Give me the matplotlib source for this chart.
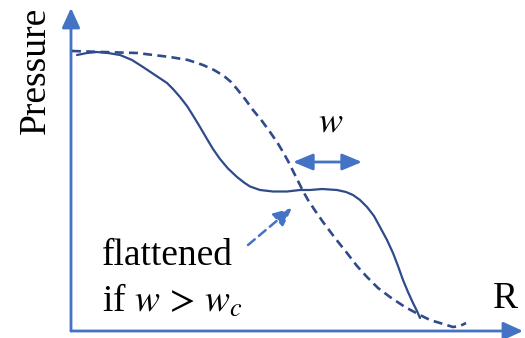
import matplotlib.pyplot as plt
from matplotlib.patches import FancyArrowPatch

plt.rcParams['mathtext.fontset'] = 'stix'

# sketch coordinates (x to the right, y downward)
solid_x = [77, 87, 97, 108, 120, 132, 143, 155, 167, 173, 180, 187, 193, 200, 207,
           213, 220, 228, 237, 244, 250, 260, 273, 287, 300, 310, 322, 337, 346,
           353, 360, 367, 374, 380, 387, 393, 398, 403, 408, 413, 417, 420]
solid_y = [55, 53, 52, 53, 55, 60, 67, 75, 83, 89, 97, 106, 115.5, 127, 139,
           149, 159, 168.5, 177, 182.5, 186.5, 190, 191.5, 191.5, 190, 190, 189, 190, 192,
           195, 200, 207, 216, 227, 240, 253, 266, 280, 292, 303, 311, 318]

dashed_x = [72, 103, 137, 170, 188, 203, 214, 224, 231, 237, 245, 253, 262, 270,
            277, 283, 288, 293, 298, 303, 308, 315, 323, 335, 347, 357, 367, 378,
            390, 405, 420, 430, 440, 453, 460, 466]
dashed_y = [51, 52, 53, 57, 60, 65, 70, 76, 82, 89, 99, 110, 121, 132,
            142, 152, 161, 171, 181, 191, 200, 210.5, 222, 238, 253, 266, 277, 288,
            297, 307, 315, 320, 323, 327, 326, 323]

axis_color = '#4472c4'
curve_color = '#2f4b8c'

fig = plt.figure(figsize=(5.25, 3.38), dpi=100)
ax = fig.add_axes([0, 0, 1, 1])
ax.set_xlim(0, 525)
ax.set_ylim(338, 0)
ax.axis('off')

# axes arrows
for end in [(71, 8), (523, 331)]:
    ax.add_patch(FancyArrowPatch((71, 331), end, arrowstyle='-|>,head_length=1.2,head_width=0.55',
                                 mutation_scale=10, color=axis_color, lw=2.0,
                                 shrinkA=0, shrinkB=0))

ax.plot(dashed_x, dashed_y, color=curve_color, lw=1.9, ls=(0, (3.4, 2.0)))
ax.plot(solid_x, solid_y, color=curve_color, lw=1.6, solid_capstyle='round',
        solid_joinstyle='round')

# width arrow
ax.add_patch(FancyArrowPatch((293, 162), (362, 162), arrowstyle='<|-|>,head_length=1.2,head_width=0.5',
                             mutation_scale=10, color=axis_color, lw=2.0, shrinkA=0, shrinkB=0))
ax.text(331, 122, '$w$', fontsize=26, ha='center', va='center')

# pointer to the plateau
ax.add_patch(FancyArrowPatch((248, 245), (292, 208), arrowstyle='-|>,head_length=1.1,head_width=0.5',
                             mutation_scale=10, color=axis_color, lw=1.8, ls=(0, (3.5, 2.2)),
                             shrinkA=0, shrinkB=0))

serif = 'Liberation Serif'
ax.text(36, 70, 'Pressure', family=serif, fontsize=27, rotation=90, ha='center', va='center')
ax.text(102, 265, 'flattened', family=serif, fontsize=27, ha='left', va='baseline')
ax.text(102, 312, r'if $w\, >\, w_{c}$', family=serif, fontsize=27, ha='left', va='baseline')
ax.text(505, 308, 'R', family=serif, fontsize=27, ha='center', va='baseline')

fig.savefig('out.png', dpi=100)
